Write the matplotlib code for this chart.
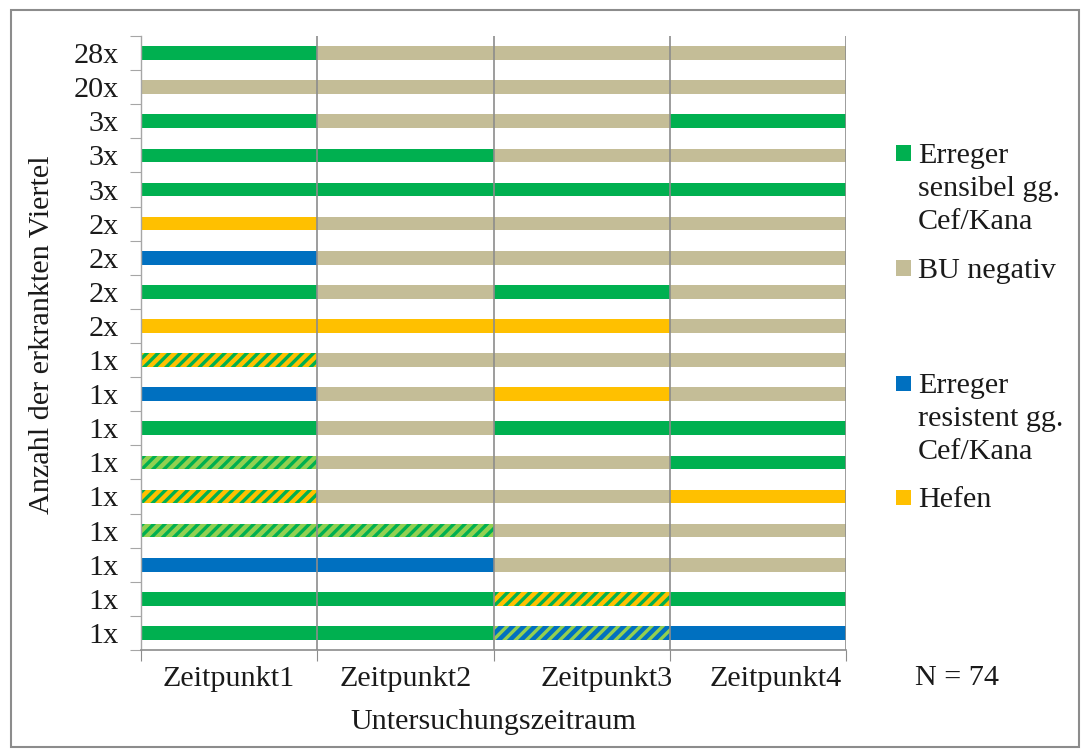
import matplotlib
matplotlib.use("Agg")
import matplotlib.pyplot as plt
from matplotlib.patches import Rectangle

plt.rcParams['font.family'] = ['Liberation Serif', 'DejaVu Serif']
plt.rcParams['hatch.linewidth'] = 2.4

# Rows from top to bottom: count label and finding at Zeitpunkt1..4
row_labels = ["28x", "20x", "3x", "3x", "3x", "2x", "2x", "2x", "2x",
              "1x", "1x", "1x", "1x", "1x", "1x", "1x", "1x", "1x"]
# S = sensibel, B = BU negativ, R = resistent, H = Hefen,
# HS = Hefen + sensibel, SS = sensibel (mixed), RS = resistent + sensibel
findings = [
    ["S", "B", "B", "B"],
    ["B", "B", "B", "B"],
    ["S", "B", "B", "S"],
    ["S", "S", "B", "B"],
    ["S", "S", "S", "S"],
    ["H", "B", "B", "B"],
    ["R", "B", "B", "B"],
    ["S", "B", "S", "B"],
    ["H", "H", "H", "B"],
    ["HS", "B", "B", "B"],
    ["R", "B", "H", "B"],
    ["S", "B", "S", "S"],
    ["SS", "B", "B", "S"],
    ["HS", "B", "B", "H"],
    ["SS", "SS", "B", "B"],
    ["R", "R", "B", "B"],
    ["S", "S", "HS", "S"],
    ["S", "S", "RS", "R"],
]
time_labels = ["Zeitpunkt1", "Zeitpunkt2", "Zeitpunkt3", "Zeitpunkt4"]
legend_labels = ["Erreger\nsensibel gg.\nCef/Kana", "BU negativ",
                 "Erreger\nresistent gg.\nCef/Kana", "Hefen"]

green = "#00B050"
tan = "#C4BD97"
blue = "#0070C0"
yellow = "#FFC000"
light_green = "#92D050"

# face colour, hatch colour
styles = {
    "S": (green, None),
    "B": (tan, None),
    "R": (blue, None),
    "H": (yellow, None),
    "HS": (yellow, green),
    "SS": (light_green, green),
    "RS": (blue, light_green),
}

fs = 21.7
txt = "#1a1a1a"

fig = plt.figure(figsize=(10.89, 7.51), dpi=100)
ax = fig.add_axes([141/1089, 1-650/751, 705/1089, 614/751])

n = len(row_labels)
for i, row in enumerate(findings):
    y = n - 1 - i
    for j, code in enumerate(row):
        face, hcol = styles[code]
        if hcol is None:
            ax.barh(y, 1, left=j, height=0.4, color=face, linewidth=0, zorder=2)
        else:
            ax.barh(y, 1, left=j, height=0.4, facecolor=face, edgecolor=hcol,
                    hatch="///", linewidth=0, zorder=2)

ax.set_xlim(0, 4)
ax.set_ylim(-0.5, n - 0.5)

# vertical gridlines
for x in [1, 2, 3, 4]:
    ax.axvline(x, color="#8c8c8c", lw=1.2, zorder=3)

for s in ["top", "right"]:
    ax.spines[s].set_visible(False)
ax.spines["left"].set_color("#a6a6a6")
ax.spines["bottom"].set_color("#8c8c8c")
ax.spines["left"].set_linewidth(1.0)
ax.spines["bottom"].set_linewidth(1.2)

# y ticks: marks between rows, labels at row centres
ax.set_yticks([k - 0.5 for k in range(n + 1)])
ax.set_yticklabels([])
ax.set_yticks(range(n), minor=True)
ax.set_yticklabels(row_labels[::-1], minor=True, fontsize=fs, color=txt)
ax.tick_params(axis="y", which="major", length=8, color="#a6a6a6", direction="out")
ax.tick_params(axis="y", which="minor", length=0, pad=16)

# x ticks: marks at column boundaries
ax.set_xticks([0, 1, 2, 3, 4])
ax.set_xticklabels([])
ax.tick_params(axis="x", which="major", length=8, color="#8c8c8c", direction="out")
label_x = [0.5, 1.5, 2.64, 3.6]
for xl, t in zip(label_x, time_labels):
    ax.text(xl, -1.35, t, ha="center", va="center", fontsize=fs, color=txt)

fig.text(493/1089, 1-722/751, "Untersuchungszeitraum", ha="center", va="center",
         fontsize=fs, color=txt)
fig.text(42/1089, 1-335/751, "Anzahl der erkrankten Viertel", ha="center",
         va="center", rotation=90, fontsize=fs, color=txt)
fig.text(957/1089, 1-678/751, "N = 74", ha="center", va="center",
         fontsize=fs, color=txt)

# legend
leg_colors = [green, tan, blue, yellow]
leg_y = [153, 268, 383, 497]
for c, yy, lab in zip(leg_colors, leg_y, legend_labels):
    fig.patches.append(Rectangle((896/1089, 1-(yy+7.5)/751), 15/1089, 15/751,
                                 transform=fig.transFigure, facecolor=c,
                                 edgecolor="none"))
    fig.text(918/1089, 1-(yy-10)/751, lab, ha="left", va="top", fontsize=fs,
             linespacing=1.36, color=txt)

# outer frame
fig.patches.append(Rectangle((11/1089, 4/751), 1068/1089, 737/751,
                             transform=fig.transFigure, fill=False,
                             edgecolor="#8c8c8c", lw=1.5))

fig.savefig("out.png", dpi=100)
